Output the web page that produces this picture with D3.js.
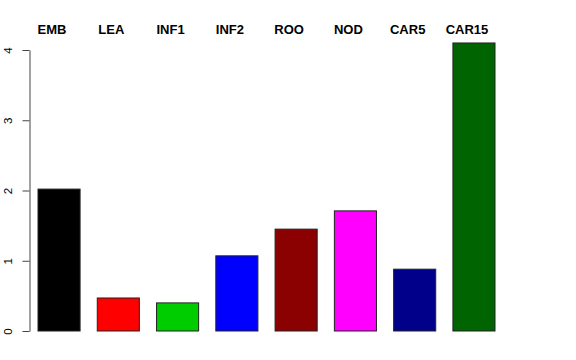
<!DOCTYPE html>
<html>
<head>
<meta charset="utf-8">
<script src="https://cdn.jsdelivr.net/npm/d3@7"></script>
<style>
  body { margin: 0; background: #fff; }
  svg text { font-family: "Liberation Sans", Arial, sans-serif; }
</style>
</head>
<body>
<div class="chart"></div>
<script>
const width = 576
const height = 360

// data
const categories = ["EMB", "LEA", "INF1", "INF2", "ROO", "NOD", "CAR5", "CAR15"]
const values = [2.02, 0.47, 0.40, 1.07, 1.45, 1.71, 0.88, 4.10]
const colors = ["#000000", "#FF0000", "#00CD00", "#0000FF", "#8B0000", "#FF00FF", "#00008B", "#006400"]
const yTicks = [0, 1, 2, 3, 4]

const svg = d3.select(".chart").append("svg")
    .attr("width", width)
    .attr("height", height)

let x = d3.scaleBand().domain(categories).range([38, 495]).paddingInner(0.29).paddingOuter(0)
let y = d3.scaleLinear().domain([0, 4]).range([331, 50])

// bars
svg.selectAll(".bar")
    .data(values)
    .enter()
    .append("rect")
    .attr("class", "bar")
    .attr("x", (d, i) => x(categories[i]))
    .attr("y", d => y(d))
    .attr("width", x.bandwidth())
    .attr("height", d => y(0) - y(d))
    .attr("fill", (d, i) => colors[i])
    .attr("stroke", "#222")
    .attr("stroke-width", 1)

// category labels along the top
svg.selectAll(".lab")
    .data(categories)
    .enter()
    .append("text")
    .attr("class", "lab")
    .attr("x", d => x(d) + x.bandwidth() / 2 - 7)
    .attr("y", 34)
    .attr("text-anchor", "middle")
    .style("font-size", "13px")
    .style("font-weight", "bold")
    .text(d => d)

// y axis, R style with rotated tick labels
const axis = svg.append("g")
    .attr("transform", "translate(29.5,0)")
    .call(d3.axisLeft(y).tickValues(yTicks).tickSize(7).tickSizeOuter(0).tickFormat(d3.format("d")))

axis.select(".domain").attr("stroke", "#444")
axis.selectAll(".tick line").attr("stroke", "#444")
axis.selectAll(".tick text")
    .attr("x", 0)
    .attr("dy", 0)
    .attr("text-anchor", "middle")
    .attr("transform", "translate(-17.5,0) rotate(-90)")
    .style("font-size", "11.5px")
    .style("font-family", "Liberation Sans, Arial, sans-serif")
    .attr("fill", "#000")
</script>
</body>
</html>
